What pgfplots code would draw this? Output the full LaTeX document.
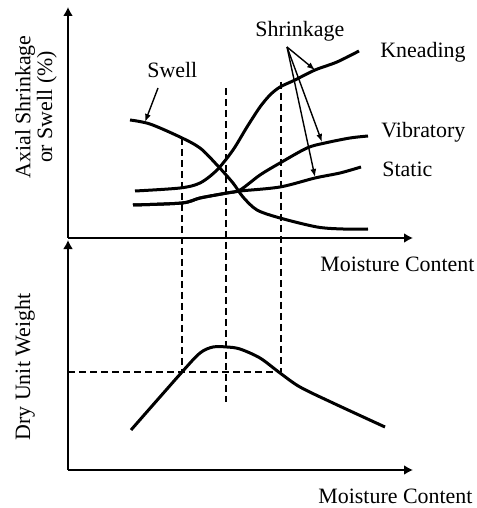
\documentclass[border=0pt]{standalone}
\usepackage{pgfplots}
\pgfplotsset{compat=1.18}
\usepackage{fontspec}
\setmainfont{Liberation Serif}
\usetikzlibrary{arrows.meta}
\begin{document}
\begin{tikzpicture}
\path[use as bounding box] (0,0) rectangle (238.5bp,254bp);
\pgfplotsset{
  myax/.style={
    scale only axis, clip=false,
    width=172.5bp, xmin=68, xmax=413,
    axis lines=left, xtick=\empty, ytick=\empty,
    axis line style={line width=1bp,-{Latex[length=4.5bp,width=5bp]}},
    every axis plot/.append style={black},
  },
  curve/.style={line width=1.5bp, smooth, no markers},
  dsh/.style={line width=0.75bp, dash pattern=on 3.5bp off 2bp, no markers},
  ann/.style={line width=0.7bp, no markers, -{Latex[length=4bp,width=3bp]}},
}
\begin{axis}[myax, height=115.5bp, ymin=0, ymax=231,
  at={(34bp,135bp)}, anchor=south west]
% Kneading
\addplot[curve] coordinates {(135,47) (180,50) (200,55) (217,68) (233,88) (247,111) (260,131) (270,143) (280,151) (295,158) (315,168) (337,176) (359,187)};
% Vibratory
\addplot[curve] coordinates {(133,33) (182,35) (200,40) (227,45) (240,48) (260,63) (280,75) (307,90) (325,95) (350,100) (368,102)};
% Static
\addplot[curve] coordinates {(133,33) (182,35) (200,40) (227,45) (240,47) (280,51) (315,60) (340,65) (361,71)};
% Swell
\addplot[curve] coordinates {(130,118) (150,114) (180,101) (200,90) (217,73) (233,55) (243,41) (257,28) (280,20) (317,11) (343,9) (368,9)};
% dashed verticals
\addplot[dsh] coordinates {(182,100) (182,-134)};
\addplot[dsh] coordinates {(226,150) (226,-164)};
\addplot[dsh] coordinates {(281,156) (281,-134)};
% annotation arrows
\addplot[ann] coordinates {(158,150) (145,116)};
\addplot[ann] coordinates {(287,191) (315,168)};
\addplot[ann] coordinates {(287,191) (322,96)};
\addplot[ann] coordinates {(287,191) (315,61)};
\begin{scope}[font=\fontsize{11}{11}\selectfont]
\node[anchor=base west, inner sep=0] at (axis cs:255,201) {Shrinkage};
\node[anchor=base west, inner sep=0] at (axis cs:380,180) {Kneading};
\node[anchor=base west, inner sep=0] at (axis cs:381,100) {Vibratory};
\node[anchor=base west, inner sep=0] at (axis cs:382,61) {Static};
\node[anchor=base west, inner sep=0] at (axis cs:147,160) {Swell};
\node[anchor=base west, inner sep=0] at (axis cs:320,-34) {Moisture Content};
\node[rotate=90, align=center, inner sep=0] at (axis cs:36,131) {Axial Shrinkage\\or Swell (\%)};
\end{scope}
\end{axis}
\begin{axis}[myax, height=115bp, ymin=0, ymax=230,
  at={(34bp,19bp)}, anchor=south west]
\addplot[curve] coordinates {(131,40) (182,98) (200,117) (213,123) (227,123) (240,121) (260,112) (280,97) (300,83) (333,67) (385,43)};
\addplot[dsh] coordinates {(68,98) (281,98)};
\begin{scope}[font=\fontsize{11}{11}\selectfont]
\node[anchor=base west, inner sep=0] at (axis cs:318,-33) {Moisture Content};
\node[rotate=90, inner sep=0] at (axis cs:25,103) {Dry Unit Weight};
\end{scope}
\end{axis}
\end{tikzpicture}
\end{document}
